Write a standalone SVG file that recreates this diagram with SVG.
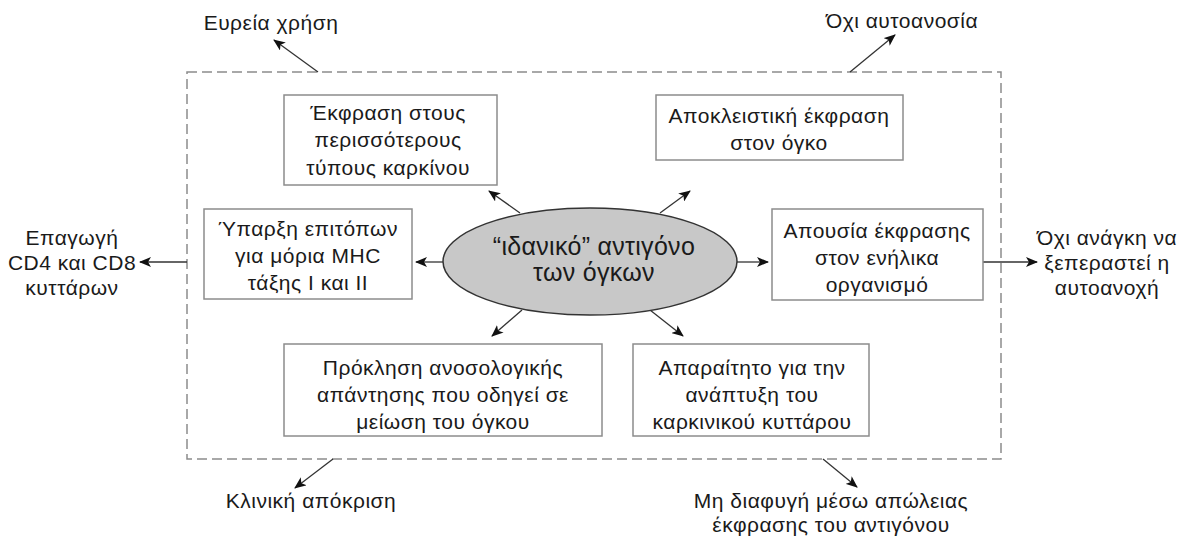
<svg xmlns="http://www.w3.org/2000/svg" width="1189" height="540" viewBox="0 0 1189 540">
<style>
text{font-family:"Liberation Sans",Arial,sans-serif;fill:#1a1a1a;text-anchor:middle}
.t{font-size:21px;letter-spacing:0.5px}
.e{font-size:25px;letter-spacing:0.3px}
.box{fill:#fff;stroke:#8c8c8c;stroke-width:1.5}
.frame{fill:none;stroke:#8c8c8c;stroke-width:1.5;stroke-dasharray:10 5}
.c{stroke:#333;stroke-width:1.3;fill:none;marker-end:url(#ah)}
</style>
<defs>
<marker id="ah" markerUnits="userSpaceOnUse" markerWidth="12" markerHeight="10" refX="11" refY="5" orient="auto">
<path d="M0,0 L12,5 L0,10 L3,5 z" fill="#111"/>
</marker>
</defs>
<rect id="frame" class="frame" x="187" y="72" width="814" height="387"/>
<g id="connectors">
<line class="c" x1="443" y1="262" x2="416" y2="262"/>
<line class="c" x1="737" y1="262" x2="768" y2="262"/>
<line class="c" x1="520" y1="213" x2="489" y2="191"/>
<line class="c" x1="660" y1="213" x2="690" y2="191"/>
<line class="c" x1="522" y1="310" x2="492" y2="336"/>
<line class="c" x1="650" y1="310" x2="683" y2="336"/>
<line class="c" x1="318" y1="72" x2="274" y2="40"/>
<line class="c" x1="850" y1="72" x2="895" y2="35"/>
<line class="c" x1="187" y1="262" x2="140" y2="262"/>
<line class="c" x1="983" y1="262" x2="1037" y2="262"/>
<line class="c" x1="333" y1="459" x2="295" y2="488"/>
<line class="c" x1="823" y1="459" x2="857" y2="487"/>
</g>
<g id="center">
<ellipse cx="590" cy="261.5" rx="147" ry="53.5" fill="#c8c8c8" stroke="#333" stroke-width="1.5"/>
<text class="e" x="594" y="255">“ιδανικό” αντιγόνο</text>
<text class="e" x="594" y="281">των όγκων</text>
</g>
<g id="n1">
<rect class="box" x="284" y="95" width="213" height="90"/>
<text class="t" x="388" y="120">Έκφραση στους</text>
<text class="t" x="388" y="147">περισσότερους</text>
<text class="t" x="388" y="175">τύπους καρκίνου</text>
</g>
<g id="n2">
<rect class="box" x="656" y="95" width="247" height="65"/>
<text class="t" x="779" y="123">Αποκλειστική έκφραση</text>
<text class="t" x="779" y="150">στον όγκο</text>
</g>
<g id="n3">
<rect class="box" x="204" y="209" width="208" height="90"/>
<text class="t" x="308" y="236">Ύπαρξη επιτόπων</text>
<text class="t" x="308" y="263">για μόρια MHC</text>
<text class="t" x="308" y="290">τάξης I και II</text>
</g>
<g id="n4">
<rect class="box" x="772" y="209" width="211" height="91"/>
<text class="t" x="877" y="238">Απουσία έκφρασης</text>
<text class="t" x="877" y="265">στον ενήλικα</text>
<text class="t" x="877" y="292">οργανισμό</text>
</g>
<g id="n5">
<rect class="box" x="284" y="344" width="318" height="92"/>
<text class="t" x="443" y="375">Πρόκληση ανοσολογικής</text>
<text class="t" x="443" y="402">απάντησης που οδηγεί σε</text>
<text class="t" x="443" y="429">μείωση του όγκου</text>
</g>
<g id="n6">
<rect class="box" x="633" y="344" width="236" height="92"/>
<text class="t" x="752" y="375">Απαραίτητο για την</text>
<text class="t" x="752" y="402">ανάπτυξη του</text>
<text class="t" x="752" y="429">καρκινικού κυττάρου</text>
</g>
<g id="l1"><text class="t" x="271" y="30">Ευρεία χρήση</text></g>
<g id="l2"><text class="t" x="902" y="28">Όχι αυτοανοσία</text></g>
<g id="l3">
<text class="t" x="72" y="245">Επαγωγή</text>
<text class="t" x="72" y="270">CD4 και CD8</text>
<text class="t" x="72" y="295">κυττάρων</text>
</g>
<g id="l4">
<text class="t" x="1107" y="245">Όχι ανάγκη να</text>
<text class="t" x="1107" y="270">ξεπεραστεί η</text>
<text class="t" x="1107" y="295">αυτοανοχή</text>
</g>
<g id="l5"><text class="t" x="311" y="508">Κλινική απόκριση</text></g>
<g id="l6">
<text class="t" x="831" y="508">Μη διαφυγή μέσω απώλειας</text>
<text class="t" x="831" y="532">έκφρασης του αντιγόνου</text>
</g>
</svg>
